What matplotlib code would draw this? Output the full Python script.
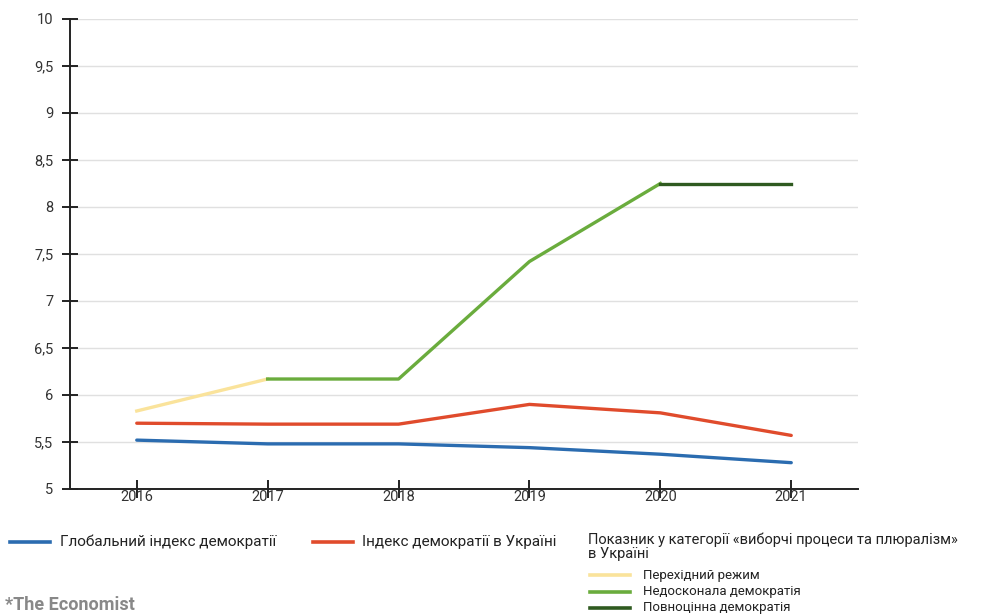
import matplotlib.pyplot as plt
from matplotlib.lines import Line2D

plt.rcParams['font.family'] = ['Roboto', 'DejaVu Sans']

# Дані
years = [2016, 2017, 2018, 2019, 2020, 2021]
global_index = [5.52, 5.48, 5.48, 5.44, 5.37, 5.28]
ukraine_index = [5.70, 5.69, 5.69, 5.90, 5.81, 5.57]
electoral = [5.83, 6.17, 6.17, 7.42, 8.25, 8.25]

# індекси відрізків за категоріями режиму
hybrid_span = (0, 2)
flawed_span = (1, 5)
full_span = (4, 6)

yticks = [5, 5.5, 6, 6.5, 7, 7.5, 8, 8.5, 9, 9.5, 10]
ytick_labels = ['5', '5,5', '6', '6,5', '7', '7,5', '8', '8,5', '9', '9,5', '10']

blue = '#2b6cb0'
red = '#e04b2c'
yellow = '#fae39b'
green = '#6aac3d'
dark_green = '#2f5a20'

fig = plt.figure(figsize=(9.82, 6.16), dpi=100)
ax = fig.add_axes([70 / 982, 1 - 489 / 616, 788 / 982, 470 / 616])

ax.plot(years, global_index, color=blue, lw=2.4, solid_capstyle='round')
ax.plot(years, ukraine_index, color=red, lw=2.4, solid_capstyle='round')
a, b = hybrid_span
ax.plot(years[a:b], electoral[a:b], color=yellow, lw=2.4)
a, b = flawed_span
ax.plot(years[a:b], electoral[a:b], color=green, lw=2.4)
a, b = full_span
ax.plot(years[a:b], electoral[a:b], color=dark_green, lw=2.4)

ax.set_xlim(2015.49, 2021.51)
ax.set_ylim(5, 10)
ax.set_yticks(yticks)
ax.set_yticklabels(ytick_labels)
ax.set_xticks(years)
ax.set_xticklabels([str(y) for y in years])
ax.grid(axis='y', color='#e0e0e0', lw=1)
ax.set_axisbelow(True)
for s in ['top', 'right']:
    ax.spines[s].set_visible(False)
for s in ['left', 'bottom']:
    ax.spines[s].set_linewidth(1.4)
    ax.spines[s].set_color('#222222')
ax.tick_params(axis='y', direction='inout', length=12, width=1.4, color='#222222',
               labelsize=10.5, labelcolor='#333333', pad=6)
ax.tick_params(axis='x', direction='inout', length=13, width=1.4, color='#222222',
               labelsize=10.5, labelcolor='#333333', pad=-6)

# Легенда
def leg_line(x0, y, color):
    fig.add_artist(Line2D([x0 / 982, (x0 + 40) / 982], [1 - y / 616, 1 - y / 616],
                          color=color, lw=2.6, transform=fig.transFigure))

leg_line(10, 542, blue)
fig.text(60 / 982, 1 - 542 / 616, 'Глобальний індекс демократії', fontsize=11,
         color='#222222', va='center')
leg_line(313, 542, red)
fig.text(362 / 982, 1 - 542 / 616, 'Індекс демократії в Україні', fontsize=11,
         color='#222222', va='center')
fig.text(588 / 982, 1 - 547 / 616,
         'Показник у категорії «виборчі процеси та плюралізм»\nв Україні',
         fontsize=10.5, color='#222222', va='center', linespacing=1.0)
leg_line(590, 575, yellow)
fig.text(643 / 982, 1 - 575 / 616, 'Перехідний режим', fontsize=9.5, color='#222222', va='center')
leg_line(590, 592, green)
fig.text(643 / 982, 1 - 592 / 616, 'Недосконала демократія', fontsize=9.5, color='#222222', va='center')
leg_line(590, 608, dark_green)
fig.text(643 / 982, 1 - 608 / 616, 'Повноцінна демократія', fontsize=9.5, color='#222222', va='center')

fig.text(5 / 982, 1 - 614 / 616, '*The Economist', fontsize=13, fontweight='bold',
         color='#888888', va='bottom')

fig.savefig('out.png', dpi=100)
